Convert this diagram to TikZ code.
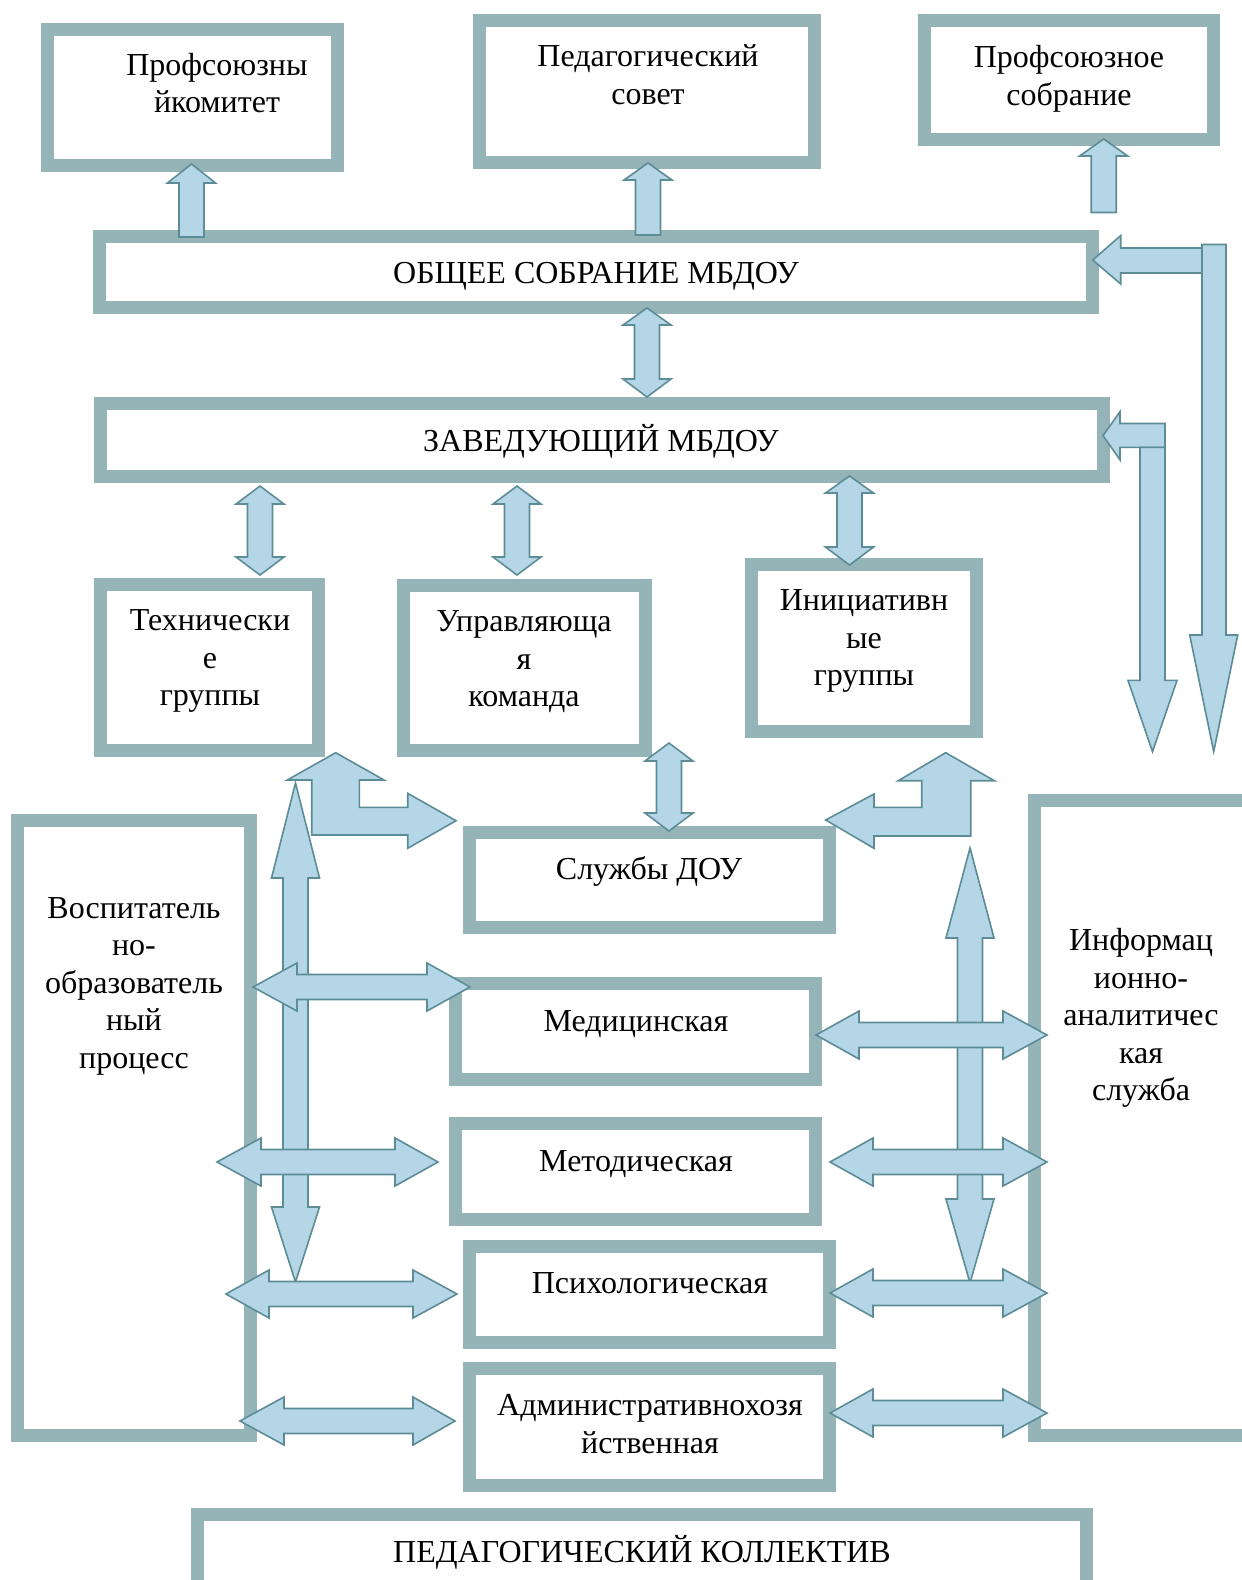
\documentclass[tikz,border=0pt]{standalone}
\usepackage{fontspec}
\setmainfont{Liberation Serif}
\definecolor{boxc}{HTML}{94B4B8}
\definecolor{arrf}{HTML}{B4D6E7}
\definecolor{arrd}{HTML}{5C8D96}
\tikzset{
  box/.style={draw=boxc, line width=13pt, inner sep=0pt, rectangle},
  lbl/.style={font=\fontsize{32}{37.5}\selectfont, align=center, inner sep=0pt, text=black},
  barrow/.style={fill=arrf, draw=arrd, line width=1.6pt, line join=miter},
}
% box from outer corners
\newcommand\mkbox[5]{\node[box, minimum width={#4-#2-13}, minimum height={#5-#3-13}] (#1) at ({(#2+#4)/2},{(#3+#5)/2}) {};}
% vertical double arrow: x, tip1, base1, base2, tip2
\newcommand\dblV[5]{\draw[barrow] (#1,#2) -- ({#1+24},#3) -- ({#1+12.5},#3) -- ({#1+12.5},#4) -- ({#1+24},#4) -- (#1,#5) -- ({#1-24},#4) -- ({#1-12.5},#4) -- ({#1-12.5},#3) -- ({#1-24},#3) -- cycle;}
% horizontal double arrow: y, tipL, baseL, baseR, tipR
\newcommand\dblH[5]{\draw[barrow] (#2,#1) -- (#3,{#1-24}) -- (#3,{#1-12.5}) -- (#4,{#1-12.5}) -- (#4,{#1-24}) -- (#5,#1) -- (#4,{#1+24}) -- (#4,{#1+12.5}) -- (#3,{#1+12.5}) -- (#3,{#1+24}) -- cycle;}
% up arrow: x, tip, headbase, bottom
\newcommand\upArr[4]{\draw[barrow] (#1,#2) -- ({#1+24},#3) -- ({#1+12.5},#3) -- ({#1+12.5},#4) -- ({#1-12.5},#4) -- ({#1-12.5},#3) -- ({#1-24},#3) -- cycle;}
\begin{document}
\begin{tikzpicture}[x=1pt,y=-1pt]
\useasboundingbox (0,0) rectangle (1242,1580);
\clip (0,0) rectangle (1242,1580);
\fill[white] (0,0) rectangle (1242,1580);
% boxes
\mkbox{prk}{41}{23}{344}{172}
\mkbox{ped}{473}{14}{821}{169}
\mkbox{prs}{918}{14}{1220}{146}
\mkbox{obs}{93}{230}{1099}{314}
\mkbox{zav}{94}{397}{1110}{483}
\mkbox{teh}{94}{578}{325}{757}
\mkbox{upr}{397}{579}{652}{757}
\mkbox{ini}{745}{558}{983}{738}
\mkbox{slu}{463}{826}{836}{934}
\mkbox{vos}{11}{814}{257}{1442}
\mkbox{med}{449}{977}{822}{1086}
\mkbox{met}{449}{1117}{822}{1226}
\mkbox{psy}{463}{1240}{836}{1349}
\mkbox{adm}{463}{1362}{836}{1492}
\mkbox{kol}{191}{1508}{1093}{1594}
\mkbox{inf}{1028}{794}{1256}{1442}
% texts
\node[lbl] (tprk) at (217,83) {Профсоюзны\\йкомитет};
\node[lbl] (tped) at (648,74.5) {Педагогический\\совет};
\node[lbl] (tprs) at (1069,79) {Профсоюзное\\собрание};
\node[lbl] (tobs) at (596,276) {ОБЩЕЕ СОБРАНИЕ МБДОУ};
\node[lbl] (tzav) at (601,441) {ЗАВЕДУЮЩИЙ МБДОУ};
\node[lbl] (tteh) at (210,661) {Технически\\е\\группы};
\node[lbl] (tupr) at (524,662) {Управляюща\\я\\команда};
\node[lbl] (tini) at (864,641) {Инициативн\\ые\\группы};
\node[lbl] (tslu) at (649,871) {Службы ДОУ};
\node[lbl] (tvos) at (134,986) {Воспитатель\\но-\\образователь\\ный\\процесс};
\node[lbl] (tmed) at (636,1024) {Медицинская};
\node[lbl] (tmet) at (636,1164) {Методическая};
\node[lbl] (tpsy) at (650,1283) {Психологическая};
\node[lbl] (tadm) at (650,1424) {Административнохозя\\йственная};
\node[lbl] (tkol) at (642,1552) {ПЕДАГОГИЧЕСКИЙ КОЛЛЕКТИВ};
\node[lbl] (tinf) at (1141,1018) {Информац\\ионно-\\аналитичес\\кая\\служба};
% top up arrows
\upArr{191.5}{164}{183}{237}
\upArr{648}{163}{180}{235}
\upArr{1103.7}{139}{156}{212.5}
% right bent arrows
\draw[barrow] (1092.7,260) -- (1120.7,235.6) -- (1120.7,248) -- (1202,248) -- (1202,273) -- (1120.7,273) -- (1120.7,284) -- cycle;
\draw[barrow] (1202,244.5) -- (1226,244.5) -- (1226,635) -- (1237.7,635) -- (1213.7,751.6) -- (1189.7,635) -- (1202,635) -- cycle;
\draw[barrow] (1103,435.6) -- (1120,411.7) -- (1120,423.5) -- (1165,423.5) -- (1165,447.3) -- (1120,447.3) -- (1120,459.8) -- cycle;
\draw[barrow] (1140,447.3) -- (1165,447.3) -- (1165,680.4) -- (1177,680.4) -- (1152.5,751.6) -- (1128,680.4) -- (1140,680.4) -- cycle;
% vertical double arrows
\dblV{647}{308}{325}{379}{397}
\dblV{260}{486}{504}{557}{575}
\dblV{517}{486}{504}{557}{575}
\dblV{849.5}{476}{493}{547}{565}
\dblV{669}{743}{761}{813}{831}
\dblV{295.5}{783}{878}{1207}{1282}
\dblV{970}{848}{938}{1199}{1283}
% bent arrows to Службы
\draw[barrow] (311.7,835) -- (311.7,780) -- (287.3,780) -- (335.7,752.7) -- (384,780) -- (359.3,780) -- (359.3,807.3) -- (407.7,807.3) -- (407.7,793.3) -- (456,820.7) -- (407.7,848.3) -- (407.7,835) -- cycle;
\draw[barrow] (970.7,836) -- (970.7,780.7) -- (994.3,780.7) -- (945.7,752.7) -- (898.3,780.7) -- (921.7,780.7) -- (921.7,807.3) -- (874,807.3) -- (874,794) -- (825.7,820) -- (874,848.3) -- (874,836) -- cycle;
% horizontal double arrows, left
\dblH{987}{253}{297}{427}{470}
\dblH{1162}{217}{261}{395}{438}
\dblH{1294}{226}{269}{413}{457}
\dblH{1421}{240}{284}{413}{455}
% horizontal double arrows, right
\dblH{1035}{816}{859}{1003}{1047}
\dblH{1162}{830}{873}{1003}{1047}
\dblH{1293}{830}{873}{1003}{1047}
\dblH{1413}{830}{873}{1003}{1047}
\end{tikzpicture}
\end{document}
